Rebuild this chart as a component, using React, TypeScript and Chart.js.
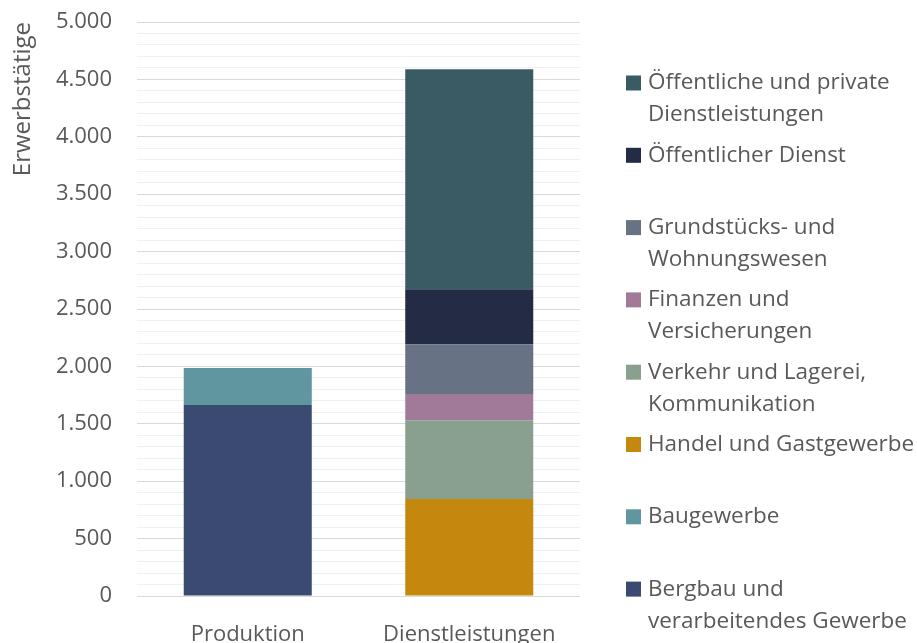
import React, { useEffect, useRef } from "react";
import { Chart, registerables } from "chart.js";

Chart.register(...registerables);

const categories = ["Produktion", "Dienstleistungen"];

const seriesNames = [
  "Bergbau und\nverarbeitendes Gewerbe",
  "Baugewerbe",
  "Handel und Gastgewerbe",
  "Verkehr und Lagerei,\nKommunikation",
  "Finanzen und\nVersicherungen",
  "Grundstücks- und\nWohnungswesen",
  "Öffentlicher Dienst",
  "Öffentliche und private\nDienstleistungen",
];

const bergbau = [1663, null];
const baugewerbe = [322, null];
const handel = [null, 845];
const verkehr = [null, 687];
const finanzen = [null, 227];
const grundstuecke = [null, 435];
const oeffentlicherDienst = [null, 479];
const oeffPrivDienst = [null, 1915];

const seriesValues = [bergbau, baugewerbe, handel, verkehr, finanzen, grundstuecke, oeffentlicherDienst, oeffPrivDienst];

const seriesColors = ["#3b4a71", "#5f96a0", "#c4880e", "#89a08e", "#a17a9a", "#677385", "#242b45", "#3b5b64"];

const yMin = 0;
const yMax = 5000;
const yStep = 100;
const yLabelStep = 500;
const yTitle = "Erwerbstätige";

const FONT = '"Open Sans", "Noto Sans", sans-serif';
const FS = 22;
const LFS = 22.5;
const TFS = 24;
const TEXT = "#595959";

function fmt(v: number): string {
  if (v >= 1000) {
    return Math.floor(v / 1000) + "." + String(v % 1000).padStart(3, "0");
  }
  return String(v);
}

const legendPlugin = {
  id: "customLegend",
  afterDraw(chart: any) {
    const ctx = chart.ctx;
    ctx.save();
    ctx.font = `${LFS}px ${FONT}`;
    ctx.fillStyle = TEXT;
    ctx.textBaseline = "middle";
    ctx.textAlign = "left";
    const n = seriesNames.length;
    const boxX = 626;
    const textX = 648;
    const firstY = 83;
    const gap = 72.3;
    const lineH = 32;
    const box = 15;
    for (let i = 0; i < n; i++) {
      const idx = n - 1 - i;
      const y = firstY + i * gap;
      ctx.fillStyle = seriesColors[idx];
      ctx.fillRect(boxX, y - box / 2, box, box);
      ctx.fillStyle = TEXT;
      const lines = seriesNames[idx].split("\n");
      lines.forEach((l, j) => ctx.fillText(l, textX, y + j * lineH));
    }
    ctx.restore();
  },
};

export default function App() {
  const ref = useRef<HTMLCanvasElement | null>(null);
  useEffect(() => {
    if (!ref.current) return;
    const chart = new Chart(ref.current, {
      type: "bar",
      data: {
        labels: categories,
        datasets: seriesValues.map((vals, i) => ({
          label: seriesNames[i].replace("\n", " "),
          data: vals as any,
          backgroundColor: seriesColors[i],
          borderWidth: 0,
          categoryPercentage: 1,
          barPercentage: 0.578,
        })),
      },
      options: {
        animation: false,
        responsive: true,
        maintainAspectRatio: false,
        layout: { padding: { top: 22, right: 337, left: 0, bottom: 0 } },
        plugins: {
          legend: { display: false },
          tooltip: { enabled: false },
        },
        scales: {
          x: {
            stacked: true,
            grid: { display: false },
            border: { display: false },
            ticks: { color: TEXT, font: { family: FONT, size: FS }, padding: 18, maxRotation: 0 },
            afterFit: (s: any) => { s.height = 47; s.paddingLeft = 0; s.paddingRight = 0; },
          },
          y: {
            stacked: true,
            min: yMin,
            max: yMax,
            border: { display: false },
            grid: {
              drawTicks: false,
              color: (c: any) => (c.tick && c.tick.value % yLabelStep === 0 ? "#d9d9d9" : "#f0f0f0"),
              lineWidth: 1,
            },
            ticks: {
              stepSize: yStep,
              autoSkip: false,
              padding: 25,
              color: TEXT,
              font: { family: FONT, size: FS },
              callback: (v: any) => (Number(v) % yLabelStep === 0 ? fmt(Number(v)) : ""),
            },
            title: {
              display: true,
              text: yTitle,
              align: "end",
              color: TEXT,
              font: { family: FONT, size: TFS },
              padding: { top: 9, bottom: 0 },
            },
            afterFit: (s: any) => { s.width = 137; s.paddingTop = 0; s.paddingBottom = 0; },
          },
        },
      },
      plugins: [legendPlugin],
    });
    return () => chart.destroy();
  }, []);
  return (
    <div style={{ position: "absolute", left: 0, top: 0, width: 917, height: 643, background: "#fff" }}>
      <canvas ref={ref} />
    </div>
  );
}
